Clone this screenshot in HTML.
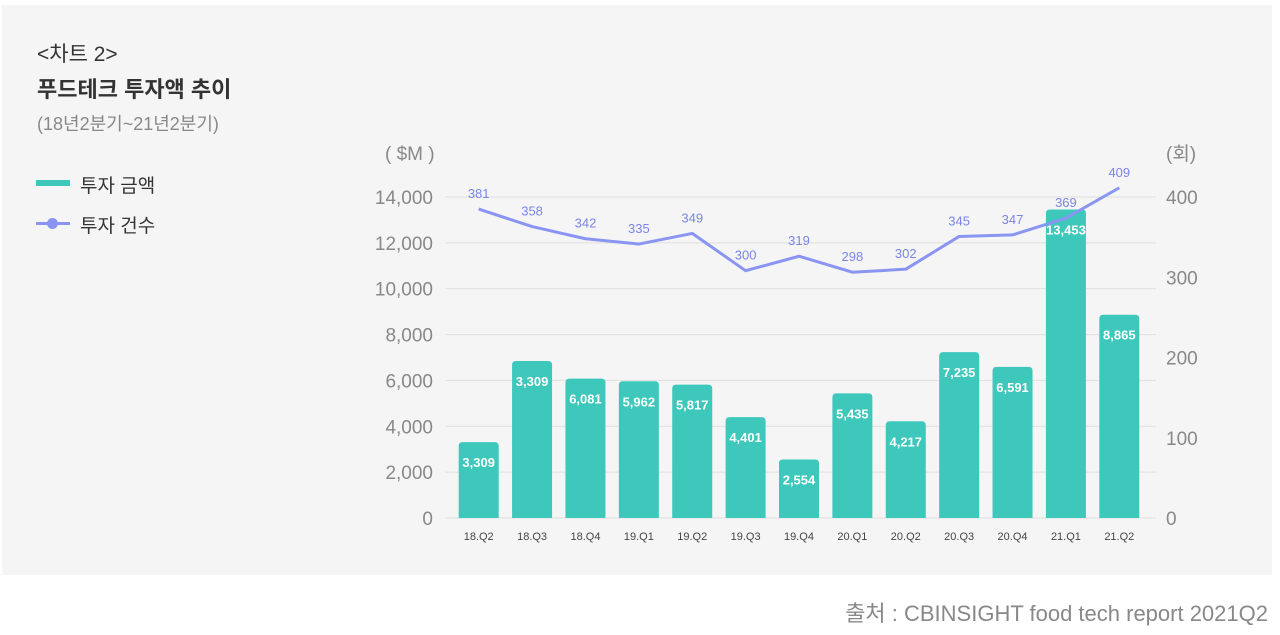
<!DOCTYPE html>
<html><head><meta charset="utf-8">
<style>
html,body{margin:0;padding:0;background:#fff;width:1280px;height:635px;overflow:hidden;font-family:"Liberation Sans","Noto Sans CJK KR",sans-serif;}
#panel{position:absolute;left:2px;top:5px;width:1270px;height:570px;background:#f5f5f5;}
.t{position:absolute;white-space:nowrap;}
</style></head><body>
<div id="panel"></div>
<div class="t" style="left:37px;top:38px;font-size:21px;color:#333;">&lt;차트 2&gt;</div>
<div class="t" style="left:37px;top:72px;font-size:22px;font-weight:bold;color:#333;">푸드테크 투자액 추이</div>
<div class="t" style="left:37px;top:110px;font-size:18px;color:#888;">(18년2분기~21년2분기)</div>
<div>
<div style="position:absolute;left:36px;top:180px;width:34px;height:6px;background:#3ec8bb;"></div>
<div class="t" style="left:80px;top:171px;font-size:19px;color:#333;">투자 금액</div></div>
<div>
<div style="position:absolute;left:36px;top:222px;width:34px;height:3px;background:#8a95f2;"></div>
<div style="position:absolute;left:47px;top:218px;width:11px;height:11px;border-radius:50%;background:#8a95f2;"></div>
<div class="t" style="left:80px;top:211px;font-size:19px;color:#333;">투자 건수</div></div>
<div class="t" style="right:12px;top:596px;font-size:22px;color:#888;">출처 : CBINSIGHT food tech report 2021Q2</div>
<svg id="chart" width="1280" height="635" style="position:absolute;left:0;top:0;"></svg>
<script>
const categories=["18.Q2","18.Q3","18.Q4","19.Q1","19.Q2","19.Q3","19.Q4","20.Q1","20.Q2","20.Q3","20.Q4","21.Q1","21.Q2"];
const amountValues=[3309,6850,6081,5962,5817,4401,2554,5435,4217,7235,6591,13453,8865];
const amountLabels=["3,309","3,309","6,081","5,962","5,817","4,401","2,554","5,435","4,217","7,235","6,591","13,453","8,865"];
const countValues=[381,358,342,335,349,300,319,298,302,345,347,369,409];
const leftTicks=[0,2000,4000,6000,8000,10000,12000,14000];
const rightTicks=[0,100,200,300,400];
const NS="http://www.w3.org/2000/svg";
const svg=document.getElementById('chart');
const x0=452,x1=1146,yB=518,yT=197;
const yL=v=>yB-(v/14000)*(yB-yT);
const yR=v=>yB-(v/400)*(yB-yT);
const yLine=v=>499-0.761*v;
const step=(x1-x0)/categories.length;
const xC=i=>x0+step*(i+0.5);
function mk(tag,attrs,txt){const e=document.createElementNS(NS,tag);for(const k in attrs)e.setAttribute(k,attrs[k]);if(txt!==undefined)e.textContent=txt;svg.appendChild(e);return e;}
const fmt=v=>v.toLocaleString('en-US');
leftTicks.forEach(v=>{
 const g=mk('line',{x1:445,x2:1156,y1:yL(v),y2:yL(v),stroke:'#dfdfdf','stroke-width':1});
 
 
 const t=mk('text',{x:433,y:yL(v)+7,'text-anchor':'end','font-size':19,fill:'#888','font-family':'Liberation Sans, sans-serif'},fmt(v));
 
 
});
rightTicks.forEach(v=>{
 const t=mk('text',{x:1166,y:yR(v)+7,'font-size':19,fill:'#888','font-family':'Liberation Sans, sans-serif'},fmt(v));
 
 
});
let a=mk('text',{x:385,y:160,'font-size':19,fill:'#888','font-family':'Liberation Sans, sans-serif'},'( $M )');


a=mk('text',{x:1166,y:160,'font-size':19,fill:'#888','font-family':'Liberation Sans, Noto Sans CJK KR, sans-serif'},'(회)');


const bw=40;
categories.forEach((c,i)=>{
 const y=yL(amountValues[i]);
 const b=mk('path',{d:`M${xC(i)-bw/2},${yB} V${y+4} Q${xC(i)-bw/2},${y} ${xC(i)-bw/2+4},${y} H${xC(i)+bw/2-4} Q${xC(i)+bw/2},${y} ${xC(i)+bw/2},${y+4} V${yB} Z`,fill:'#3ec8bb'});
 
 
 const l=mk('text',{x:xC(i),y:y+25,'text-anchor':'middle','font-size':13,'font-weight':'bold',fill:'#fff','font-family':'Liberation Sans, sans-serif'},amountLabels[i]);
 
 
 const xl=mk('text',{x:xC(i),y:540,'text-anchor':'middle','font-size':11,fill:'#444','font-family':'Liberation Sans, sans-serif'},c);
 
 
});
const pts=countValues.map((v,i)=>xC(i)+','+yLine(v)).join(' ');
const ln=mk('polyline',{points:pts,fill:'none',stroke:'#8a95f2','stroke-width':3,'stroke-linejoin':'round'});


countValues.forEach((v,i)=>{
 const t=mk('text',{x:xC(i),y:yLine(v)-11,'text-anchor':'middle','font-size':13,fill:'#7a85ea','font-family':'Liberation Sans, sans-serif'},fmt(v));
 
 
});
</script>
</body></html>
